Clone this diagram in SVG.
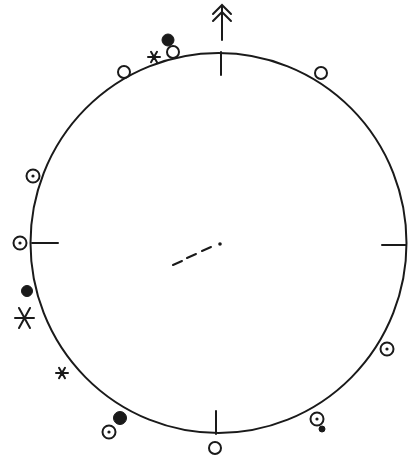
<svg xmlns="http://www.w3.org/2000/svg" width="409" height="459" viewBox="0 0 409 459">
<style>
.ln{fill:none;stroke:#1a1a1a;stroke-width:2;stroke-linecap:round}
.oc{fill:#fff;stroke:#1a1a1a;stroke-width:2}
.fc{fill:#1a1a1a;stroke:#1a1a1a;stroke-width:1}
.dot{fill:#1a1a1a}
</style>
<defs>
<g id="dc"><circle r="6.5" class="oc"/><circle r="1.6" class="dot"/></g>
<g id="ast"><path d="M-6 0H6M-3-5.2L3 5.2M-3 5.2L3-5.2" class="ln" stroke-width="1.6"/></g>
</defs>
<rect width="409" height="459" fill="#fff"/>
<g id="frame">
<ellipse cx="218.5" cy="243" rx="188" ry="190" class="ln"/>
<path d="M221 52V75M216 411V434M32 243H58M382 245H406" class="ln"/>
<path d="M222 6V40M213 14L222 5L231 14M213 21L222 12L231 21" class="ln"/>
</g>
<g id="connectors">
<path d="M173 265L182 261M187 258L196 254M202 251L211 247" class="ln" stroke-width="2.5"/>
<circle cx="220" cy="244" r="1.8" class="dot"/>
</g>
<g id="n1"><circle cx="124" cy="72" r="6" class="oc"/></g>
<g id="n2"><use href="#ast" x="154" y="57"/></g>
<g id="n3"><circle cx="168" cy="40" r="6" class="fc"/></g>
<g id="n4"><circle cx="173" cy="52" r="6" class="oc"/></g>
<g id="n5"><circle cx="321" cy="73" r="6" class="oc"/></g>
<g id="n6"><use href="#dc" x="33" y="176"/></g>
<g id="n7"><use href="#dc" x="20" y="243"/></g>
<g id="n8"><circle cx="27" cy="291" r="5.5" class="fc"/></g>
<g id="n9"><path d="M15 318H34M19 308L30 328M19 328L30 308" class="ln" stroke-width="2.5"/></g>
<g id="n10"><use href="#ast" x="62" y="373"/></g>
<g id="n11"><circle cx="120" cy="418" r="6.5" class="fc"/></g>
<g id="n12"><use href="#dc" x="109" y="432"/></g>
<g id="n13"><circle cx="215" cy="448" r="6" class="oc"/></g>
<g id="n14"><use href="#dc" x="387" y="349"/></g>
<g id="n15"><circle cx="322" cy="429" r="3" class="fc"/><use href="#dc" x="317" y="419"/></g>
</svg>
